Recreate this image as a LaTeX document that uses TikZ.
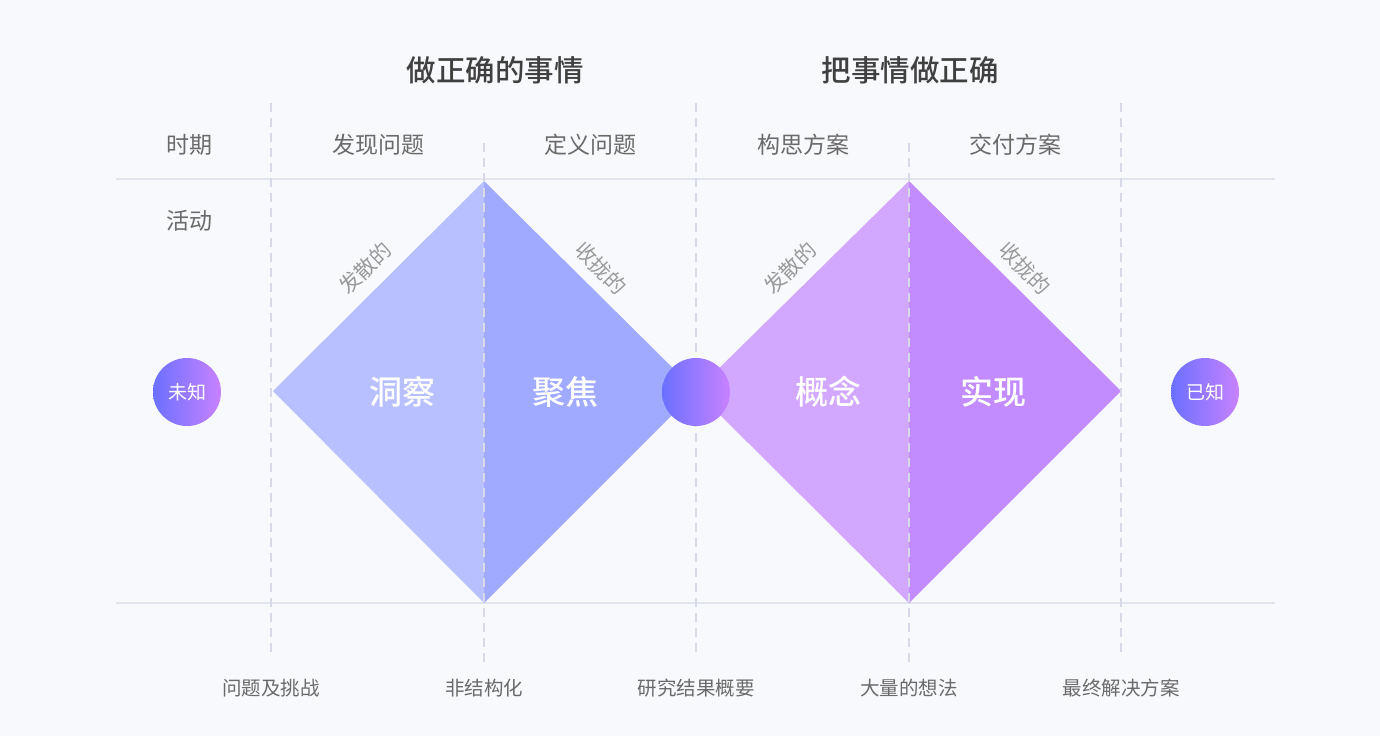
\documentclass[tikz,border=0pt]{standalone}
\usepackage{fontspec}
\newfontfamily\cjk{Noto Sans CJK SC}
\newfontfamily\cjkmed{Noto Sans CJK SC Medium}
\definecolor{bgcol}{HTML}{F8F9FC}
\definecolor{rulecol}{HTML}{E2E5EE}
\definecolor{dashcol}{HTML}{D7DAE6}
\definecolor{findleft}{HTML}{B8C0FF}
\definecolor{findright}{HTML}{A0AAFF}
\definecolor{makeleft}{HTML}{D2A8FF}
\definecolor{makeright}{HTML}{C28CFF}
\definecolor{dotleft}{HTML}{6B70FF}
\definecolor{dotright}{HTML}{C882FF}
\definecolor{titlecol}{HTML}{404040}
\definecolor{labelcol}{HTML}{6A6A6A}
\definecolor{slantcol}{HTML}{9A9A9A}
\tikzset{
  rule/.style={rulecol, line width=2pt},
  dashline/.style={dashcol, line width=1.6pt, dash pattern=on 9pt off 6pt},
  dot/.style={circle, minimum size=68pt, inner sep=0pt, left color=dotleft,
    right color=dotright, text=white, font=\cjk\fontsize{19}{19}\selectfont},
  headline/.style={titlecol, font=\cjkmed\fontsize{29.5}{29.5}\selectfont},
  period/.style={labelcol, font=\cjk\fontsize{23}{23}\selectfont},
  slant/.style={slantcol, font=\cjk\fontsize{21}{21}\selectfont},
  stage/.style={white, font=\cjkmed\fontsize{33}{33}\selectfont},
  result/.style={labelcol, font=\cjk\fontsize{19.5}{19.5}\selectfont}
}
\begin{document}
\begin{tikzpicture}[x=1pt,y=-1pt, every node/.style={font=\cjk}]
  \fill[bgcol] (0,0) rectangle (1380,736);
  % diamond corners
  \coordinate (L1) at (273,391);
  \coordinate (T1) at (484,181);
  \coordinate (B1) at (484,603);
  \coordinate (M) at (696,391);
  \coordinate (T2) at (909,181);
  \coordinate (B2) at (909,603);
  \coordinate (R2) at (1121,391);
  % table rules
  \coordinate (ruleA) at (116,179);
  \coordinate (ruleB) at (1275,179);
  \coordinate (ruleC) at (116,603);
  \coordinate (ruleD) at (1275,603);
  \draw[rule] (ruleA) -- (ruleB);
  \draw[rule] (ruleC) -- (ruleD);
  % diamonds
  \fill[findleft] (L1) -- (T1) -- (B1) -- cycle;
  \fill[findright] (T1) -- (M) -- (B1) -- cycle;
  \fill[makeleft] (M) -- (T2) -- (B2) -- cycle;
  \fill[makeright] (T2) -- (R2) -- (B2) -- cycle;
  % column dividers
  \foreach \x in {271,696,1121}
    \draw[dashline] (\x,103) -- (\x,655);
  \foreach \x in {484,909}
    \draw[dashline] (\x,143) -- (\x,665);
  % start, middle, end
  \node[dot] (unknown) at (187,392) {未知};
  \node[dot] (middle) at (696,392) {};
  \node[dot] (known) at (1205,392) {已知};
  % titles
  \node[headline] (rightthing) at (495,70) {做正确的事情};
  \node[headline] (thingright) at (910,70) {把事情做正确};
  % header row
  \node[period] (phase) at (189,145) {时期};
  \node[period] (discover) at (378,145) {发现问题};
  \node[period] (define) at (590,145) {定义问题};
  \node[period] (develop) at (803,145) {构思方案};
  \node[period] (deliver) at (1015,145) {交付方案};
  \node[period] (activity) at (189,221) {活动};
  % diverge / converge
  \node[slant, rotate=45] (div1) at (365,268) {发散的};
  \node[slant, rotate=-45] (con1) at (601,268) {收拢的};
  \node[slant, rotate=45] (div2) at (790,268) {发散的};
  \node[slant, rotate=-45] (con2) at (1025,268) {收拢的};
  % stages
  \node[stage] (insight) at (402,392) {洞察};
  \node[stage] (focus) at (565,392) {聚焦};
  \node[stage] (concept) at (828,392) {概念};
  \node[stage] (realise) at (993,392) {实现};
  % outcomes
  \node[result] (challenge) at (271,688) {问题及挑战};
  \node[result] (unstruct) at (484,688) {非结构化};
  \node[result] (summary) at (696,688) {研究结果概要};
  \node[result] (ideas) at (909,688) {大量的想法};
  \node[result] (solution) at (1121,688) {最终解决方案};
\end{tikzpicture}
\end{document}
